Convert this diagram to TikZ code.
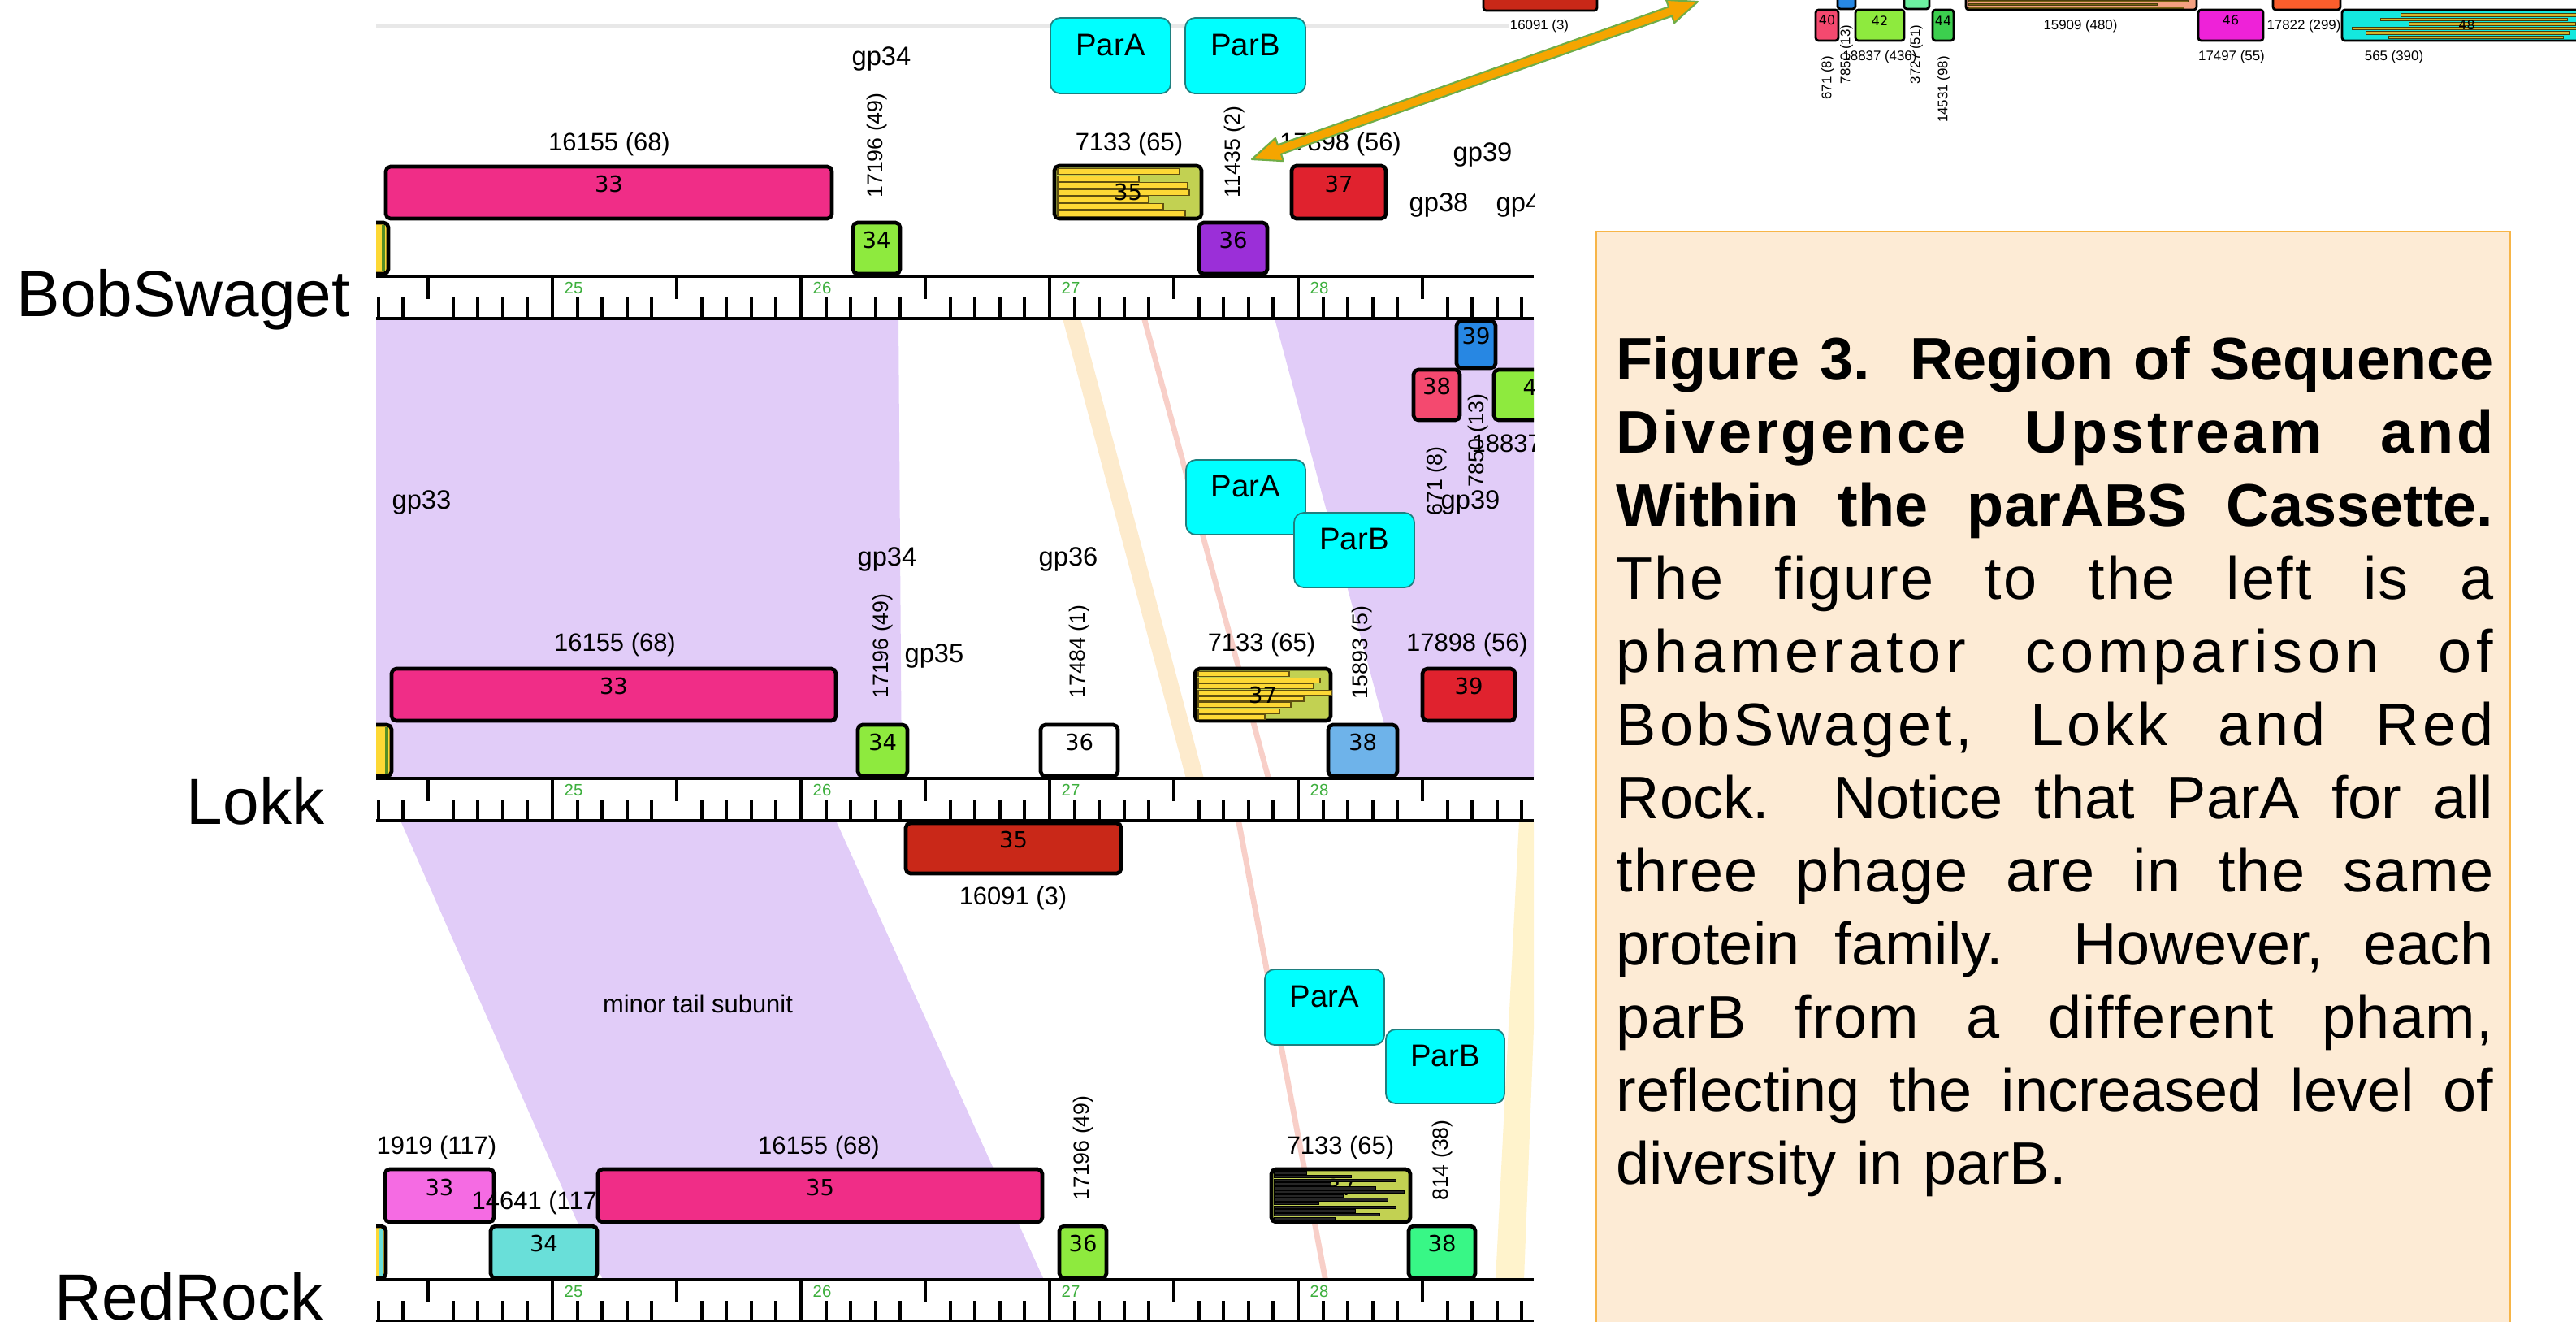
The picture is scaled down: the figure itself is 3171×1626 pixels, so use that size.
\documentclass[tikz,border=0pt]{standalone}
\usepackage{fontspec}
\setmainfont{Liberation Sans}
\newfontfamily\genefont{DejaVu Sans}
\usetikzlibrary{fit, calc}
\definecolor{genepink}{RGB}{240, 45, 135}
\definecolor{genelime}{RGB}{142, 234, 62}
\definecolor{genepurple}{RGB}{155, 47, 216}
\definecolor{genered}{RGB}{224, 34, 46}
\definecolor{geneolive}{RGB}{194, 209, 82}
\definecolor{geneyellow}{RGB}{253, 216, 53}
\definecolor{genesky}{RGB}{110, 179, 234}
\definecolor{generust}{RGB}{201, 40, 24}
\definecolor{genemagenta}{RGB}{245, 107, 227}
\definecolor{geneteal}{RGB}{105, 223, 217}
\definecolor{genemint}{RGB}{56, 247, 134}
\definecolor{geneblue}{RGB}{39, 135, 227}
\definecolor{generose}{RGB}{244, 73, 111}
\definecolor{genegreen}{RGB}{60, 207, 78}
\definecolor{genefuchsia}{RGB}{238, 34, 216}
\definecolor{geneorange}{RGB}{251, 94, 44}
\definecolor{genesalmon}{RGB}{244, 160, 128}
\definecolor{genecyan}{RGB}{20, 232, 222}
\definecolor{lightmint}{RGB}{108, 240, 160}
\definecolor{barbrown}{RGB}{120, 100, 20}
\definecolor{bandpurple}{RGB}{225, 204, 248}
\definecolor{bandpeach}{RGB}{253, 235, 205}
\definecolor{bandpink}{RGB}{248, 207, 200}
\definecolor{bandcream}{RGB}{255, 243, 204}
\definecolor{parcyan}{RGB}{0, 255, 255}
\definecolor{parteal}{RGB}{31, 127, 127}
\definecolor{rulergreen}{RGB}{61, 175, 61}
\definecolor{arroworange}{RGB}{245, 165, 0}
\definecolor{arrowgreen}{RGB}{112, 173, 71}
\definecolor{captionfill}{RGB}{253, 235, 213}
\definecolor{captionedge}{RGB}{247, 181, 72}
% one justified caption line, optional letter spacing
\newcommand{\capline}[2][0]{\makebox[10.79cm][s]{\spaceskip=0pt\xspaceskip=0pt\addfontfeature{LetterSpace=#1}#2}\\}
\tikzset{
    % Gene boxes
    gene box/.style={
        rectangle, rounded corners=1.6pt, draw=black, line width=1.3pt,
        inner sep=0pt, font=\genefont\fontsize{7.8}{8}\selectfont
    },
    gene num/.style={inner sep=0pt, font=\genefont\fontsize{7.8}{8}\selectfont},
    % Genes of the small inset
    inset gene/.style={
        gene box, line width=0.8pt, rounded corners=1pt,
        font=\genefont\fontsize{4.5}{5}\selectfont
    },
    % Hatch bars inside genes
    sun bar/.style={fill=geneyellow, draw=barbrown!80!black, line width=0.3pt},
    dark bar/.style={fill=black!85, draw=black, line width=0.2pt},
    olive bar/.style={fill=barbrown, draw=barbrown!60!black, line width=0.2pt},
    % Pham and gene labels
    pham label/.style={inner sep=0pt, font=\fontsize{8.8}{10}\selectfont},
    pham vlabel/.style={inner sep=0pt, rotate=90, font=\fontsize{7.6}{9}\selectfont},
    gp label/.style={inner sep=0pt, font=\fontsize{9.3}{10}\selectfont},
    inset label/.style={inner sep=0pt, font=\fontsize{4.8}{5}\selectfont},
    inset vlabel/.style={inset label, rotate=90},
    % Function boxes
    par box/.style={
        rectangle, rounded corners=3.4pt, draw=parteal, line width=0.5pt,
        fill=parcyan, inner sep=0pt, font=\fontsize{10.9}{12}\selectfont
    },
    % Ruler
    ruler line/.style={line width=1.4pt},
    ruler tick/.style={line width=1.1pt},
    ruler num/.style={anchor=west, inner sep=0pt, text=rulergreen, font=\fontsize{5.8}{6}\selectfont},
    % Genome names
    track name/.style={inner sep=0pt, font=\fontsize{22.8}{26}\selectfont},
    % Caption
    caption box/.style={rectangle, draw=captionedge, line width=0.8pt, fill=captionfill, inner sep=0pt},
    caption text/.style={inner sep=0pt, text width=10.79cm, align=left, font=\fontsize{21}{25.6}\selectfont},
    % Orange link arrow
    link arrow/.style={fill=arroworange, draw=arrowgreen, line width=0.6pt, line join=round}
}

\begin{document}
\begin{tikzpicture}[x=0.01cm, y=-0.01cm]
    \useasboundingbox (0,0) rectangle (3171,1626);

    % Map panel
    \begin{scope}
        \clip (463,0) rectangle (1888,1626);
        \draw[gray!18, line width=1pt] (463,32) -- (1857,32);

        % Alignment shading BobSwaget - Lokk
        \fill[bandpurple] (463,392) -- (1106,392) -- (1110,958) -- (463,958) -- cycle;
        \fill[bandpurple] (1569,392) -- (1888,392) -- (1888,958) -- (1722,958) -- cycle;
        \fill[bandpeach] (1308,392) -- (1330,392) -- (1482,958) -- (1460,958) -- cycle;
        \fill[bandpink] (1405,392) -- (1412,392) -- (1565,958) -- (1558,958) -- cycle;
        % Alignment shading Lokk - RedRock
        \fill[bandpurple] (493,1010) -- (1029,1010) -- (1285,1575) -- (742,1575) -- cycle;
        \fill[bandpink] (1521,1010) -- (1528,1010) -- (1635,1575) -- (1628,1575) -- cycle;
        \fill[bandcream] (1870,1010) -- (1898,1010) -- (1876,1575) -- (1841,1575) -- cycle;

        % Rulers
        \foreach \ry/\rn in {340/bs, 958/lk, 1575/rr} {
            \fill[white] (463,\ry) rectangle (1888,\ry+52);
            \draw[ruler line] (463,\ry) -- (1888,\ry) (463,\ry+52) -- (1888,\ry+52);
            \foreach \k in {243,...,289} {
                \pgfmathsetmacro\tx{680+(\k-250)*30.6}
                \pgfmathtruncatemacro\m{mod(\k,10)}
                \pgfmathtruncatemacro\kb{\k/10}
                \ifnum\m=0
                    \draw[ruler tick] (\tx,\ry) -- (\tx,\ry+52);
                    \node[ruler num] (\rn kb\kb) at (\tx+14,\ry+14) {\kb};
                \else\ifnum\m=5
                    \draw[ruler tick] (\tx,\ry) -- (\tx,\ry+28);
                \else
                    \draw[ruler tick] (\tx,\ry+52) -- (\tx,\ry+26);
                \fi\fi
            }
        }

        % BobSwaget genes
        \node[gene box, fill=geneyellow, fit={(420,274) (478,337)}] (bs32) {};
        \draw[genelime!60!black, line width=1pt] (472,277) -- (472,334);
        \node[gene box, fill=genepink, fit={(475,205) (1024,269)}] (bs33) {33};
        \node[gene box, fill=genelime, fit={(1050,274) (1108,337)}] (bs34) {34};
        \node[gene box, fill=geneolive, fit={(1298,204) (1479,269)}] (bs35) {};
        \foreach \w [count=\i] in {150,100,160,162,112,130,157}
            \draw[sun bar] (1302,{199+\i*8.6}) rectangle ++(\w,7);
        \node[gene num] (bs35 num) at (bs35) {35};
        \node[gene box, fill=genepurple, fit={(1476,274) (1560,337)}] (bs36) {36};
        \node[gene box, fill=genered, fit={(1590,204) (1706,269)}] (bs37) {37};

        \node[pham label] (bs33 pham) at (750,177) {16155 (68)};
        \node[pham label] (bs35 pham) at (1390,177) {7133 (65)};
        \node[pham label] (bs37 pham) at (1650,177) {17898 (56)};
        \node[pham vlabel] (bs34 pham) at (1080,179) {17196 (49)};
        \node[pham vlabel] (bs36 pham) at (1520,187) {11435 (2)};
        \node[gp label] (bs gp34) at (1085,72) {gp34};
        \node[gp label] (bs gp39) at (1825,190) {gp39};
        \node[gp label] (bs gp38) at (1771,252) {gp38};
        \node[gp label] (bs gp40) at (1878,252) {gp40};

        \node[par box, fit={(1293,22) (1441,115)}] (bs parA) {ParA};
        \node[par box, fit={(1459,22) (1607,115)}] (bs parB) {ParB};

        % pasted piece of the next map
        \node[gene box, fill=geneblue, fit={(1793,395) (1841,453)}] (px39) {39};
        \node[gene box, fill=generose, fit={(1740,455) (1797,517)}] (px38) {38};
        \node[gene box, fill=genelime, fit={(1839,455) (1945,517)}] (px42) {42};
        \node[pham vlabel] (px671) at (1769,592) {671 (8)};
        \node[pham vlabel] (px7850) at (1820,542) {7850 (13)};
        \node[pham label, anchor=west] (px18837) at (1811,548) {18837 (436)};
        \node[gp label] (px gp39) at (1810,618) {gp39};

        % Lokk genes
        \node[gene box, fill=geneyellow, fit={(420,892) (482,955)}] (lk32) {};
        \draw[genelime!60!black, line width=1pt] (476,895) -- (476,952);
        \node[gene box, fill=genepink, fit={(482,823) (1029,887)}] (lk33) {33};
        \node[gene box, fill=genelime, fit={(1056,892) (1117,955)}] (lk34) {34};
        \node[gene box, fill=white, fit={(1281,892) (1376,955)}] (lk36) {36};
        \node[gene box, fill=geneolive, fit={(1471,823) (1638,887)}] (lk37) {};
        \foreach \w [count=\i] in {112,150,142,164,130,114,100,82}
            \draw[sun bar] (1475,{819+\i*7.6}) rectangle ++(\w,6);
        \node[gene num] (lk37 num) at (lk37) {37};
        \node[gene box, fill=genesky, fit={(1635,892) (1720,955)}] (lk38) {38};
        \node[gene box, fill=genered, fit={(1751,823) (1865,887)}] (lk39) {39};
        \node[gene box, fill=generust, fit={(1115,1013) (1380,1075)}] (lk35) {35};

        \node[pham label] (lk33 pham) at (757,793) {16155 (68)};
        \node[pham label] (lk37 pham) at (1553,793) {7133 (65)};
        \node[pham label] (lk39 pham) at (1806,793) {17898 (56)};
        \node[pham label] (lk35 pham) at (1247,1105) {16091 (3)};
        \node[pham vlabel] (lk34 pham) at (1087,795) {17196 (49)};
        \node[pham vlabel] (lk36 pham) at (1329,802) {17484 (1)};
        \node[pham vlabel] (lk38 pham) at (1677,803) {15893 (5)};
        \node[gp label] (lk gp33) at (519,618) {gp33};
        \node[gp label] (lk gp34) at (1092,688) {gp34};
        \node[gp label] (lk gp36) at (1315,688) {gp36};
        \node[gp label] (lk gp35) at (1150,807) {gp35};

        \node[par box, fit={(1460,566) (1607,658)}] (lk parA) {ParA};
        \node[par box, fit={(1593,631) (1741,723)}] (lk parB) {ParB};

        % RedRock genes
        \node[gene box, fill=geneyellow, fit={(420,1509) (475,1573)}] (rr32) {};
        \fill[geneteal] (466,1512) rectangle (472,1570);
        \node[gene box, fill=genemagenta, fit={(474,1439) (608,1504)}] (rr33) {33};
        \node[pham label, anchor=west] (rr34 pham) at (580,1480) {14641 (117)};
        \node[gene box, fill=geneteal, fit={(604,1509) (735,1573)}] (rr34) {34};
        \node[gene box, fill=genepink, fit={(736,1439) (1283,1504)}] (rr35) {35};
        \node[gene box, fill=genelime, fit={(1304,1509) (1362,1573)}] (rr36) {36};
        \node[gene box, fill=geneolive, fit={(1565,1439) (1736,1504)}] (rr37) {37};
        \foreach \w [count=\i] in {40,95,150,70,125,160,85,140,55,150,100,130,75}
            \draw[dark bar] (1568,{1437+\i*4.7}) rectangle ++(\w,3.4);
        \node[gene box, fill=genemint, fit={(1734,1509) (1816,1573)}] (rr38) {38};

        \node[pham label, anchor=west] (rr33 pham) at (463,1412) {1919 (117)};
        \node[pham label] (rr35 pham) at (1008,1412) {16155 (68)};
        \node[pham label] (rr37 pham) at (1650,1412) {7133 (65)};
        \node[pham vlabel] (rr36 pham) at (1334,1413) {17196 (49)};
        \node[pham vlabel] (rr38 pham) at (1776,1428) {814 (38)};
        \node[pham label] (rr tail) at (859,1235) {minor tail subunit};

        \node[par box, fit={(1557,1193) (1704,1286)}] (rr parA) {ParA};
        \node[par box, fit={(1706,1267) (1852,1358)}] (rr parB) {ParB};
    \end{scope}

    % Genome names
    \node[track name, anchor=base west] (bobswaget) at (20,389) {BobSwaget};
    \node[track name, anchor=base east] (lokk) at (400,1014) {Lokk};
    \node[track name, anchor=base east] (redrock) at (398,1624) {RedRock};

    % Inset (top right)
    \node[inset gene, fill=generust, fit={(1826,-8) (1966,13)}] (in35) {};
    \node[inset gene, fill=geneblue, fit={(2262,-8) (2284,11)}] (in41) {};
    \node[inset gene, fill=generose, fit={(2235,12) (2263,50)}] (in40) {40};
    \node[inset gene, fill=genelime, fit={(2284,12) (2344,50)}] (in42) {42};
    \node[inset gene, fill=lightmint, fit={(2344,-8) (2375,11)}] (in43) {};
    \node[inset gene, fill=genegreen, fit={(2379,12) (2405,50)}] (in44) {44};
    \node[inset gene, fill=genesalmon, fit={(2420,-8) (2704,12)}] (in45) {};
    \foreach \w [count=\i] in {270,232,265}
        \draw[olive bar] (2423,{-4+\i*4}) rectangle ++(\w,2.6);
    \node[inset gene, fill=genefuchsia, fit={(2706,12) (2786,50)}] (in46) {46};
    \node[inset gene, fill=geneorange, fit={(2798,-8) (2881,12)}] (in47) {};
    \node[inset label] (in47 pham) at (2836,32) {17822 (299)};
    \node[inset gene, fill=genecyan, fit={(2883,12) (3190,50)}] (in48) {};
    \foreach \s/\w [count=\i] in {2955/250, 2930/230, 2965/205, 2895/280, 2912/250, 2940/215}
        \draw[olive bar, fill=geneyellow!70!barbrown] (\s,{11+\i*5.5}) rectangle ++(\w,3.6);
    \node[gene num, font=\genefont\fontsize{4.5}{5}\selectfont] (in48 num) at (in48) {48};

    \node[inset label] (in35 pham) at (1895,32) {16091 (3)};
    \node[inset label] (in45 pham) at (2561,32) {15909 (480)};
    \node[inset label] (in42 pham) at (2314,70) {18837 (436)};
    \node[inset label] (in46 pham) at (2747,70) {17497 (55)};
    \node[inset label] (in48 pham) at (2947,70) {565 (390)};
    \node[inset vlabel] (in40 pham) at (2250,96) {671 (8)};
    \node[inset vlabel] (in41 pham) at (2273,67) {7850 (13)};
    \node[inset vlabel] (in43 pham) at (2359,67) {3727 (51)};
    \node[inset vlabel] (in44 pham) at (2393,110) {14531 (98)};

    % Link arrow between the maps
    \coordinate (arrow low) at (1541,196);
    \coordinate (arrow high) at (2090,2);
    \draw[link arrow] (arrow low)
        -- ($(arrow low)!0.36cm!(arrow high)!0.15cm!90:(arrow high)$)
        -- ($(arrow low)!0.36cm!(arrow high)!0.06cm!90:(arrow high)$)
        -- ($(arrow high)!0.36cm!(arrow low)!0.06cm!-90:(arrow low)$)
        -- ($(arrow high)!0.36cm!(arrow low)!0.15cm!-90:(arrow low)$)
        -- (arrow high)
        -- ($(arrow high)!0.36cm!(arrow low)!0.15cm!90:(arrow low)$)
        -- ($(arrow high)!0.36cm!(arrow low)!0.06cm!90:(arrow low)$)
        -- ($(arrow low)!0.36cm!(arrow high)!0.06cm!-90:(arrow high)$)
        -- ($(arrow low)!0.36cm!(arrow high)!0.15cm!-90:(arrow high)$)
        -- cycle;

    % Caption
    \node[caption box, fit={(1965,285) (3090,1680)}] (capbox) {};
    \node[caption text, anchor=north west] (captext) at (1989,413) {%
        \capline{\bfseries Figure 3.\ \ Region of Sequence}
        \capline[5]{\bfseries\addfontfeature{LetterSpace=5}Divergence Upstream and}
        \capline{\bfseries Within the parABS Cassette.}
        \capline[3]{The figure to the left is a}
        \capline[8]{phamerator comparison of}
        \capline[6]{BobSwaget, Lokk and Red}
        \capline{Rock.\ \ Notice that ParA for all}
        \capline[2]{three phage are in the same}
        \capline{protein family.\ \ However, each}
        \capline[2]{parB from a different pham,}
        \capline{reflecting the increased level of}
        diversity in parB.};

\end{tikzpicture}
\end{document}
